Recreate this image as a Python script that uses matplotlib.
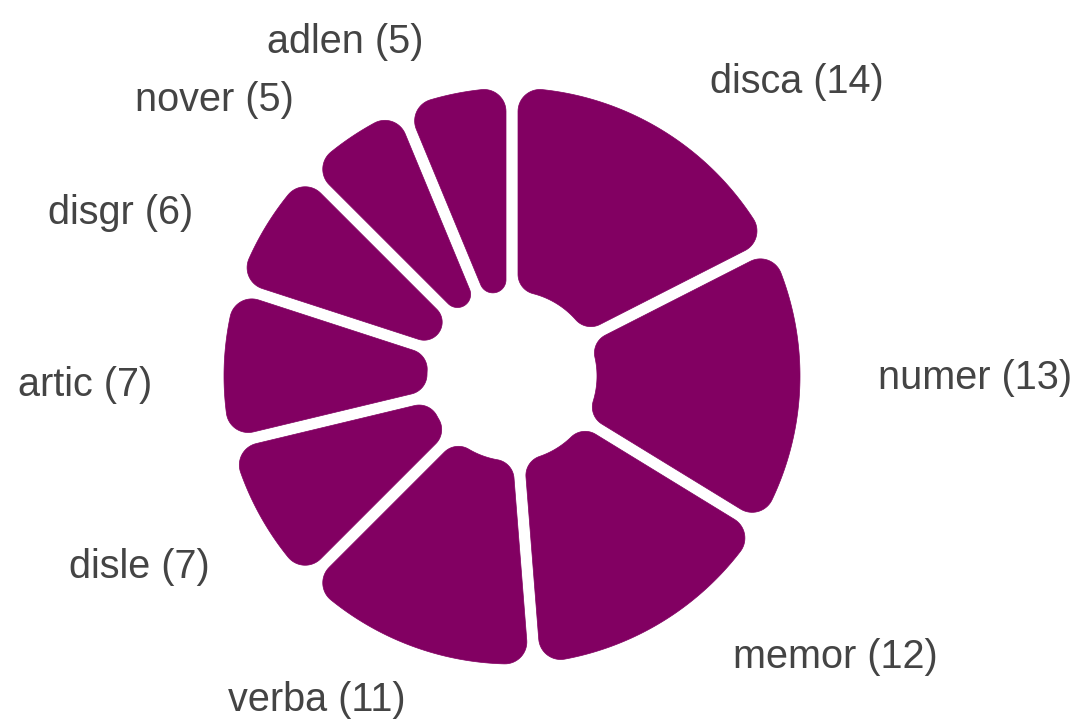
import numpy as np
import matplotlib
matplotlib.use("Agg")
import matplotlib.pyplot as plt
from matplotlib.patches import Polygon

labels = ["disca", "numer", "memor", "verba", "disle", "artic", "disgr", "nover", "adlen"]
values = [14, 13, 12, 11, 7, 7, 6, 5, 5]

# label nudges (pixels) relative to the computed anchor
label_dx = [14, 14, 37, 15, 5, -8, -19, -23, -20]
label_dy = [6, -12, -19, -6, 19, 23, 21, 17, 11]

W, H, DPI = 1081, 722, 100
fig = plt.figure(figsize=(W / DPI, H / DPI), dpi=DPI)
ax = fig.add_axes([0, 0, 1, 1])
ax.set_xlim(0, W)
ax.set_ylim(H, 0)
ax.set_aspect("equal")
ax.axis("off")

cx, cy = 512, 376
R_out, R_in = 288, 85
gap = 12
rc_out, rc_in = 22, 20
color = "#820062"
hg = gap / 2


def u(th):
    return np.array([np.sin(th), -np.cos(th)])


def n(th):
    return np.array([np.cos(th), np.sin(th)])


def arc_pts(C, A, B, num=20):
    pa = np.arctan2(A[1] - C[1], A[0] - C[0])
    pb = np.arctan2(B[1] - C[1], B[0] - C[0])
    dlt = (pb - pa + np.pi) % (2 * np.pi) - np.pi
    r = np.hypot(A[0] - C[0], A[1] - C[1])
    ph = pa + np.linspace(0, dlt, num)
    return [C + r * np.array([np.cos(p), np.sin(p)]) for p in ph]


def slice_path(a0, a1):
    half = (a1 - a0) / 2
    s = np.sin(half)
    # outer fillets
    rco = rc_out
    do = hg + rco
    rho = R_out - rco
    to = np.sqrt(rho ** 2 - do ** 2)
    C0o = do * n(a0) + to * u(a0)
    T0s = hg * n(a0) + to * u(a0)
    C1o = -do * n(a1) + to * u(a1)
    T1s = -hg * n(a1) + to * u(a1)
    ang0o = a0 + np.arcsin(do / rho)
    ang1o = a1 - np.arcsin(do / rho)
    T0c = R_out * u(ang0o)
    T1c = R_out * u(ang1o)
    # inner fillets (clamped for narrow slices)
    rci = min(rc_in, (s * R_in - hg) / (1 - s))
    di = hg + rci
    rhi = R_in + rci
    ti = np.sqrt(max(rhi ** 2 - di ** 2, 0))
    C0i = di * n(a0) + ti * u(a0)
    S0i = hg * n(a0) + ti * u(a0)
    C1i = -di * n(a1) + ti * u(a1)
    S1i = -hg * n(a1) + ti * u(a1)
    ang0i = a0 + np.arcsin(min(di / rhi, 1))
    ang1i = a1 - np.arcsin(min(di / rhi, 1))
    I0c = R_in * u(ang0i)
    I1c = R_in * u(ang1i)

    pts = []
    pts += arc_pts(C0o, T0s, T0c)
    for th in np.linspace(ang0o, ang1o, 80):
        pts.append(R_out * u(th))
    pts += arc_pts(C1o, T1c, T1s)
    pts += arc_pts(C1i, S1i, I1c)
    if ang1i > ang0i:
        for th in np.linspace(ang1i, ang0i, 30):
            pts.append(R_in * u(th))
    pts += arc_pts(C0i, I0c, S0i)
    pts = np.array(pts)
    pts[:, 0] += cx
    pts[:, 1] += cy
    return pts


total = sum(values)
start = 0.0
for i, (lab, v) in enumerate(zip(labels, values)):
    a0 = start
    a1 = start + v / total * 2 * np.pi
    start = a1
    poly = Polygon(slice_path(a0, a1), closed=True, facecolor=color,
                   edgecolor=color, linewidth=0.5)
    ax.add_patch(poly)

    mid = (a0 + a1) / 2
    lx = cx + 352 * np.sin(mid) + label_dx[i]
    ly = cy - 352 * np.cos(mid) + label_dy[i]
    ha = "left" if mid < np.pi else "right"
    ax.text(lx, ly, f"{lab} ({v})", ha=ha, va="center", fontsize=28.5,
            color="#444444", family="Liberation Sans")

fig.savefig("out.png", dpi=DPI, facecolor="white")
